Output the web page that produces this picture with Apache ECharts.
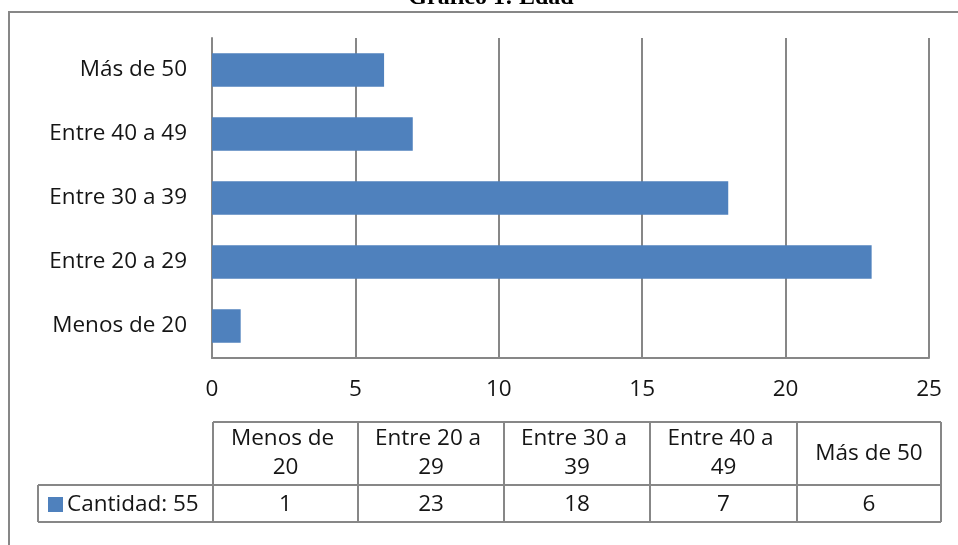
<!DOCTYPE html>
<html>
<head>
<meta charset="utf-8">
<script src="https://cdn.jsdelivr.net/npm/echarts@6/dist/echarts.min.js"></script>
<style>
  html, body { margin: 0; padding: 0; background: #fff; }
  #chart { width: 958px; height: 545px; }
</style>
</head>
<body>
<div id="chart"></div>
<script>
// datos del gráfico
var titulo = 'Gráfico 1: Edad'
var categorias = ['Menos de 20', 'Entre 20 a 29', 'Entre 30 a 39', 'Entre 40 a 49', 'Más de 50']
var cantidad = [1, 23, 18, 7, 6]
var serieNombre = 'Cantidad: 55'
var ejeTicks = [0, 5, 10, 15, 20, 25]

var fuente = 'Open Sans'
var tam = 22.5
var gris = '#878787'
var texto = '#151515'
var azul = '#4F81BD'

const chart = echarts.init(document.getElementById('chart'))

// tabla de datos debajo del eje (como en Excel)
var colX = [213, 358, 504, 650, 797, 941]
var filaY = [422, 485, 522]
var tabla = []
// bordes
tabla.push({ type: 'line', shape: { x1: 213, y1: filaY[0], x2: 941, y2: filaY[0] }, style: { stroke: gris, lineWidth: 2 } })
tabla.push({ type: 'line', shape: { x1: 38, y1: filaY[1], x2: 941, y2: filaY[1] }, style: { stroke: gris, lineWidth: 2 } })
tabla.push({ type: 'line', shape: { x1: 38, y1: filaY[2], x2: 941, y2: filaY[2] }, style: { stroke: gris, lineWidth: 2 } })
tabla.push({ type: 'line', shape: { x1: 38, y1: filaY[1], x2: 38, y2: filaY[2] }, style: { stroke: gris, lineWidth: 2 } })
colX.forEach(function (x) {
  tabla.push({ type: 'line', shape: { x1: x, y1: filaY[0], x2: x, y2: filaY[2] }, style: { stroke: gris, lineWidth: 2 } })
})
categorias.forEach(function (c, i) {
  var cx = (colX[i] + colX[i + 1]) / 2
  tabla.push({
    type: 'text', x: cx, y: (filaY[0] + filaY[1]) / 2,
    style: { text: c, width: 124, overflow: 'break', align: 'center', verticalAlign: 'middle',
      font: tam + 'px "' + fuente + '"', fill: texto, lineHeight: 29 }
  })
  tabla.push({
    type: 'text', x: cx, y: (filaY[1] + filaY[2]) / 2 + 1,
    style: { text: String(cantidad[i]), align: 'center', verticalAlign: 'middle',
      font: tam + 'px "' + fuente + '"', fill: texto }
  })
})
// leyenda dentro de la tabla
tabla.push({ type: 'rect', shape: { x: 48, y: 497, width: 15, height: 15 }, style: { fill: azul } })
tabla.push({
  type: 'text', x: 67, y: (filaY[1] + filaY[2]) / 2 + 1,
  style: { text: serieNombre, align: 'left', verticalAlign: 'middle', font: tam + 'px "' + fuente + '"', fill: texto }
})

var option = {
  animation: false,
  grid: { left: 212, right: 29, top: 38, bottom: 187 },
  xAxis: {
    type: 'value',
    min: ejeTicks[0],
    max: ejeTicks[ejeTicks.length - 1],
    interval: 5,
    axisLine: { show: true, lineStyle: { color: gris, width: 2 } },
    axisTick: { show: false },
    splitLine: { show: true, lineStyle: { color: gris, width: 2 } },
    axisLabel: { color: texto, fontSize: tam, fontFamily: fuente, margin: 20 },
  },
  yAxis: {
    type: 'category',
    data: categorias,
    axisLine: { show: true, lineStyle: { color: gris, width: 2 } },
    axisTick: { show: false },
    axisLabel: { color: texto, fontSize: tam, fontFamily: fuente, margin: 25 },
  },
  series: [
    {
      name: serieNombre,
      type: 'bar',
      data: cantidad,
      barCategoryGap: '48%',
      itemStyle: { color: azul },
    },
  ],
  graphic: [
    // marco del gráfico
    { type: 'rect', shape: { x: 9, y: 12, width: 980, height: 560 }, style: { fill: 'none', stroke: gris, lineWidth: 2 }, z: 0 },
    {
      type: 'text', x: 491, y: 10,
      style: { text: titulo, align: 'center', verticalAlign: 'bottom',
        font: 'bold 24px "Liberation Serif"', fill: '#000' }
    },
    { type: 'group', children: tabla },
  ],
}
chart.setOption(option)
</script>
</body>
</html>
